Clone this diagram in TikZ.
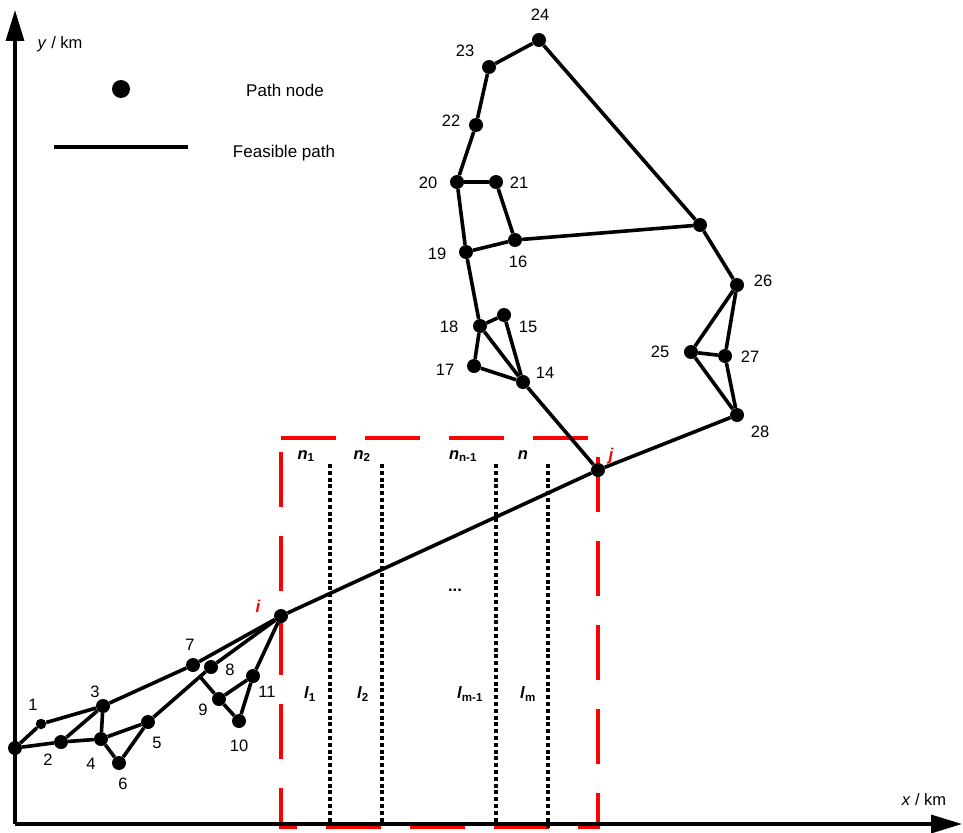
\documentclass[tikz,border=0pt]{standalone}
\usepackage{fontspec}
\setmainfont{Liberation Sans}
\usetikzlibrary{arrows.meta,calc}
\begin{document}
\begin{tikzpicture}[x=1pt,y=-1pt,
  pn/.style={circle,fill=black,inner sep=0pt,minimum size=14pt},
  pnsmall/.style={circle,fill=black,inner sep=0pt,minimum size=10.5pt},
  edge/.style={line width=3.6pt},
  axis/.style={line width=3.4pt,-{Triangle[length=31pt,width=18pt]}},
  lab/.style={font=\fontsize{16.5}{18}\selectfont,inner sep=0pt},
  leg/.style={font=\fontsize{17}{20}\selectfont,inner sep=0pt},
  redlab/.style={font=\fontsize{17}{20}\selectfont\bfseries\itshape,text=red,inner sep=0pt},
  seglab/.style={font=\fontsize{16.5}{18}\selectfont\bfseries,inner sep=0pt},
  segline/.style={line width=3.3pt,dash pattern=on 4pt off 2.8pt},
  redbox/.style={draw=red,line width=3.4pt,dash pattern=on 55pt off 29pt}]
\useasboundingbox (0,0) rectangle (963,832);

% red dashed window
\draw[redbox] (281,438) -- (598,438) -- (598,827.5) -- (281,827.5) -- cycle;

% dotted segment lines
\coordinate (d1t) at (330,464); \coordinate (d1b) at (330,825);
\coordinate (d2t) at (382,464); \coordinate (d2b) at (382,825);
\coordinate (d3t) at (496,464); \coordinate (d3b) at (496,825);
\coordinate (d4t) at (548,464); \coordinate (d4b) at (548,828);
\draw[segline] (d1t) -- (d1b);
\draw[segline] (d2t) -- (d2b);
\draw[segline] (d3t) -- (d3b);
\draw[segline] (d4t) -- (d4b);

% axes
\coordinate (ax0) at (15,824);
\coordinate (ytop) at (15,10);
\coordinate (xend) at (962,824);
\draw[axis] (ax0) -- (ytop);
\draw[axis] (ax0) -- (xend);
\node[lab] (ylab) at (60,44) {\textit{y} / km};
\node[lab] (xlab) at (924,800) {\textit{x} / km};

% legend
\node[circle,fill=black,inner sep=0pt,minimum size=18pt] (legdot) at (121,89) {};
\coordinate (legl) at (54,147); \coordinate (legr) at (188,147);
\draw[edge] (legl) -- (legr);
\node[leg] (legt1) at (285,90) {Path node};
\node[leg] (legt2) at (284,153) {Feasible path};

% nodes
\node[pn] (n0) at (15,748) {};
\node[pnsmall] (n1) at (41,724) {};
\node[pn] (n2) at (61,742) {};
\node[pn] (n3) at (103,706) {};
\node[pn] (n4) at (101,739) {};
\node[pn] (n5) at (148,722) {};
\node[pn] (n6) at (119,763) {};
\node[pn] (n7) at (193,665) {};
\node[pn] (n8) at (211,667) {};
\node[pn] (n9) at (219,699) {};
\node[pn] (n10) at (239,721) {};
\node[pn] (n11) at (253,676) {};
\node[pn] (ni) at (281,616) {};
\node[pn] (nj) at (598,470) {};
\node[pn] (n14) at (523,382) {};
\node[pn] (n15) at (504,315) {};
\node[pn] (n16) at (515,240) {};
\node[pn] (n17) at (474,366) {};
\node[pn] (n18) at (480,326) {};
\node[pn] (n19) at (466,252) {};
\node[pn] (n20) at (457,182) {};
\node[pn] (n21) at (496,182) {};
\node[pn] (n22) at (476,125) {};
\node[pn] (n23) at (489,67) {};
\node[pn] (n24) at (539,40) {};
\node[pn] (n29) at (700,225) {};
\node[pn] (n26) at (737,285) {};
\node[pn] (n25) at (691,352) {};
\node[pn] (n27) at (725,356) {};
\node[pn] (n28) at (737,415) {};
\coordinate (jn9) at ($(n5)!0.825!(n8)$);

% edges
\draw[edge] (n0) -- (n1);
\draw[edge] (n1) -- (n3);
\draw[edge] (n0) -- (n2);
\draw[edge] (n2) -- (n4);
\draw[edge] (n2) -- (n3);
\draw[edge] (n3) -- (n4);
\draw[edge] (n4) -- (n5);
\draw[edge] (n4) -- (n6);
\draw[edge] (n6) -- (n5);
\draw[edge] (n3) -- (n7);
\draw[edge] (n7) -- (ni);
\draw[edge] (n5) -- (n8);
\draw[edge] (n8) -- (ni);
\draw[edge] (jn9) -- (n9);
\draw[edge] (n9) -- (n11);
\draw[edge] (n9) -- (n10);
\draw[edge] (n10) -- (n11);
\draw[edge] (n11) -- (ni);
\draw[edge] (ni) -- (nj);
\draw[edge] (nj) -- (n14);
\draw[edge] (n14) -- (n17);
\draw[edge] (n17) -- (n18);
\draw[edge] (n18) -- (n14);
\draw[edge] (n18) -- (n15);
\draw[edge] (n15) -- (n14);
\draw[edge] (n18) -- (n19);
\draw[edge] (n19) -- (n16);
\draw[edge] (n16) -- (n21);
\draw[edge] (n21) -- (n20);
\draw[edge] (n20) -- (n19);
\draw[edge] (n20) -- (n22);
\draw[edge] (n22) -- (n23);
\draw[edge] (n23) -- (n24);
\draw[edge] (n24) -- (n29);
\draw[edge] (n16) -- (n29);
\draw[edge] (n29) -- (n26);
\draw[edge] (n26) -- (n25);
\draw[edge] (n26) -- (n27);
\draw[edge] (n25) -- (n27);
\draw[edge] (n25) -- (n28);
\draw[edge] (n27) -- (n28);
\draw[edge] (n28) -- (nj);

% node labels
\node[lab] (l1) at (33,705) {1};
\node[lab] (l2) at (48,760) {2};
\node[lab] (l3) at (95,692) {3};
\node[lab] (l4) at (91,764) {4};
\node[lab] (l5) at (157,743) {5};
\node[lab] (l6) at (123,784) {6};
\node[lab] (l7) at (190,645) {7};
\node[lab] (l8) at (230,670) {8};
\node[lab] (l9) at (203,710) {9};
\node[lab] (l10) at (239,746) {10};
\node[lab] (l11) at (267,692) {11};
\node[lab] (l14) at (545,373) {14};
\node[lab] (l15) at (528,327) {15};
\node[lab] (l16) at (518,262) {16};
\node[lab] (l17) at (445,370) {17};
\node[lab] (l18) at (449,327) {18};
\node[lab] (l19) at (437,254) {19};
\node[lab] (l20) at (428,183) {20};
\node[lab] (l21) at (519,183) {21};
\node[lab] (l22) at (451,121) {22};
\node[lab] (l23) at (465,51) {23};
\node[lab] (l24) at (540,15) {24};
\node[lab] (l25) at (660,352) {25};
\node[lab] (l26) at (763,281) {26};
\node[lab] (l27) at (750,357) {27};
\node[lab] (l28) at (760,432) {28};
\node[redlab] (li) at (258,606) {i};
\node[redlab] (lj) at (611,456) {j};

% segment labels
\node[seglab] (ln1) at (306,456) {\textit{n}\textsubscript{1}};
\node[seglab] (ln2) at (362,456) {\textit{n}\textsubscript{2}};
\node[seglab] (ln3) at (463,456) {\textit{n}\textsubscript{n-1}};
\node[seglab] (ln4) at (523,455) {\textit{n}};
\node[seglab] (ldots) at (455,590) {...};
\node[seglab] (ll1) at (310,694) {\textit{l}\textsubscript{1}};
\node[seglab] (ll2) at (363,694) {\textit{l}\textsubscript{2}};
\node[seglab] (ll3) at (470,694) {\textit{l}\textsubscript{m-1}};
\node[seglab] (ll4) at (528,694) {\textit{l}\textsubscript{m}};
\end{tikzpicture}
\end{document}
